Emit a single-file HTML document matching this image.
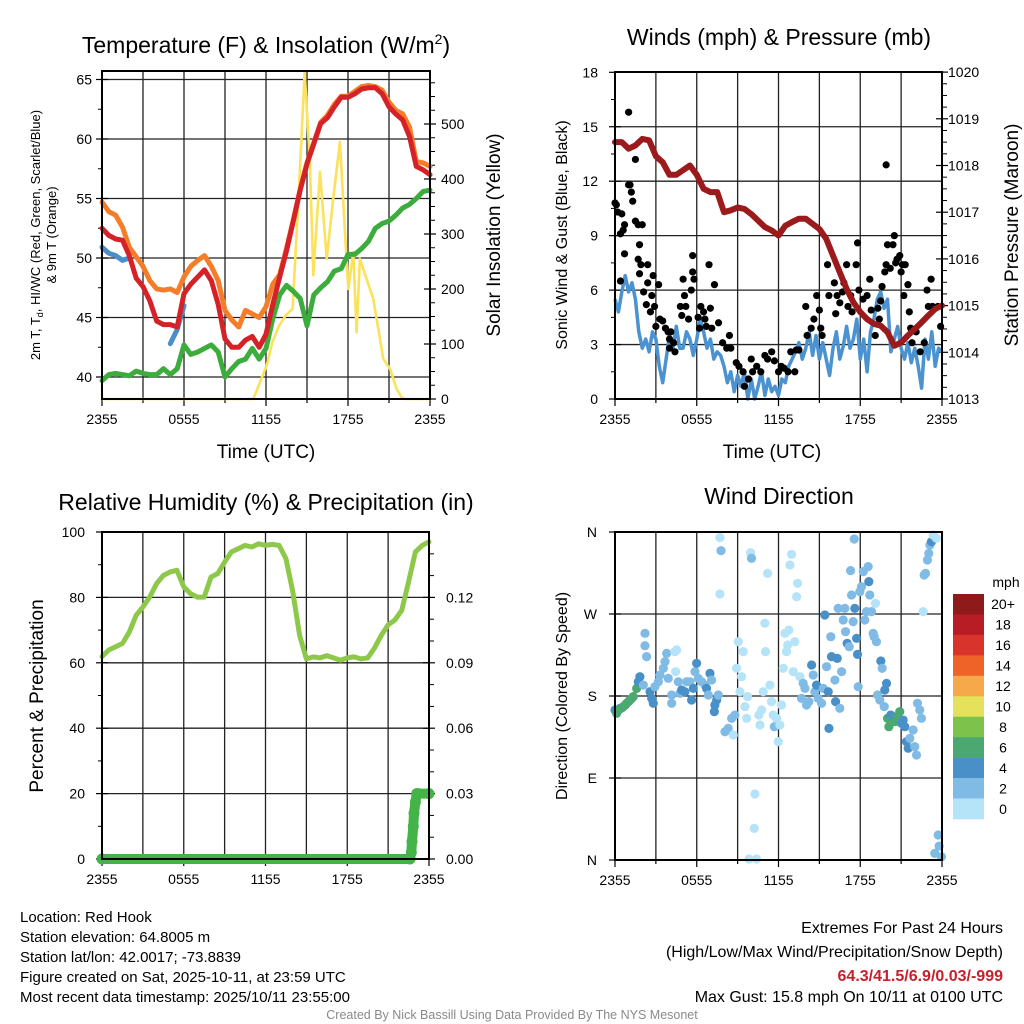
<!DOCTYPE html>
<html><head><meta charset="utf-8">
<style>
html,body{margin:0;padding:0;background:#fff;}
svg{display:block;font-family:"Liberation Sans",Arial,sans-serif;}
</style></head>
<body>
<svg id="chart" width="1024" height="1024" viewBox="0 0 1024 1024" xmlns="http://www.w3.org/2000/svg">
<rect width="1024" height="1024" fill="#fff"/>
<g id="g1"></g>
<g id="g2"></g>
<g id="g3"></g>
<g id="g4"></g>

<text x="266" y="53" font-size="23" text-anchor="middle">Temperature (F) &amp; Insolation (W/m<tspan dy="-9" font-size="14">2</tspan><tspan dy="9">)</tspan></text>
<text x="779" y="45" font-size="23" text-anchor="middle">Winds (mph) &amp; Pressure (mb)</text>
<text x="266" y="510" font-size="23" text-anchor="middle">Relative Humidity (%) &amp; Precipitation (in)</text>
<text x="779" y="504" font-size="23" text-anchor="middle">Wind Direction</text>

<text x="266" y="458" font-size="19" text-anchor="middle">Time (UTC)</text>
<text x="772" y="458" font-size="19" text-anchor="middle">Time (UTC)</text>

<g transform="translate(40,235) rotate(-90)" font-size="13" text-anchor="middle">
<text x="0" y="0">2m T, T<tspan font-size="9" dy="3">d</tspan><tspan dy="-3">, HI/WC (Red, Green, Scarlet/Blue)</tspan></text>
<text x="0" y="16">&amp; 9m T (Orange)</text>
</g>
<text transform="translate(500,235) rotate(-90)" font-size="19" text-anchor="middle">Solar Insolation (Yellow)</text>
<text transform="translate(567,235) rotate(-90)" font-size="16" text-anchor="middle">Sonic Wind &amp; Gust (Blue, Black)</text>
<text transform="translate(1018,235) rotate(-90)" font-size="19" text-anchor="middle">Station Pressure (Maroon)</text>
<text transform="translate(43,696) rotate(-90)" font-size="19" text-anchor="middle">Percent &amp; Precipitation</text>
<text transform="translate(567,696) rotate(-90)" font-size="16" text-anchor="middle">Direction (Colored By Speed)</text>

<g font-size="15">
<text x="20" y="922">Location: Red Hook</text>
<text x="20" y="942">Station elevation: 64.8005 m</text>
<text x="20" y="962">Station lat/lon: 42.0017; -73.8839</text>
<text x="20" y="982">Figure created on Sat, 2025-10-11, at 23:59 UTC</text>
<text x="20" y="1002">Most recent data timestamp: 2025/10/11 23:55:00</text>
</g>
<g font-size="16" text-anchor="end">
<text x="1003" y="933">Extremes For Past 24 Hours</text>
<text x="1003" y="957">(High/Low/Max Wind/Precipitation/Snow Depth)</text>
<text x="1003" y="981" fill="#c8202a" font-weight="bold">64.3/41.5/6.9/0.03/-999</text>
<text x="1003" y="1002">Max Gust: 15.8 mph On 10/11 at 0100 UTC</text>
</g>
<text x="512" y="1019" font-size="12.5" fill="#8a8a8a" text-anchor="middle">Created By Nick Bassill Using Data Provided By The NYS Mesonet</text>
</svg>
<script>
// ---------- DATA ----------
const timeTicks = ["2355","0555","1155","1755","2355"];
// half-hourly temperatures (hours 0..24 step 0.5)
const tempRed = [52.5,51.9,51.6,51.5,50.2,48.3,47.6,46.4,44.7,44.4,44.4,44.2,47,47.8,48.4,49,48.1,46.1,43.2,42.5,42.5,43.1,43.4,42.5,43.6,46.1,48.4,50.6,53.1,55.7,57.9,59.6,61.3,61.8,62.7,63.5,63.5,63.8,64.2,64.3,64.3,63.8,62.7,62.1,61.6,60.2,57.7,57.4,57];
const temp9m = [54.7,53.9,53.6,52.6,50.9,50.1,49.3,48.1,47.4,47.3,47.4,47.1,48.4,49.3,49.8,50.2,49.3,48.1,45.6,44.8,44.2,45.6,45.3,45,45.9,47.8,48.6,50.8,53.2,55.8,58,59.7,61.4,62,62.9,63.6,63.6,64,64.4,64.5,64.4,64.1,63.1,62.4,62.1,61,58.1,58,57.7];
const tempWC = [50.9,50.4,50.2,49.8,50.0,null,null,null,null,null,42.8,44.0,46.0,null,null,null,null,null,null,null,null,null,null,null,null,null,null,null,null,null,null,null,null,null,null,null,null,null,null,null,null,null,null,null,null,null,null,null,null];
const dewpoint = [39.7,40.2,40.3,40.2,40.1,40.5,40.3,40.2,40.2,40.7,40.2,40.7,42.7,41.9,42.1,42.4,42.7,42.1,40,40.7,41.3,41.5,42.4,41.5,42.4,44.9,46.9,47.7,47.2,46.6,44.3,46.9,47.5,48,48.9,49.1,50.3,50.3,50.8,51.4,52.5,52.9,53.1,53.6,54.2,54.5,55,55.6,55.7];
const solarHour = [0,11.07,11.46,12.05,12.46,12.95,13.44,13.95,14.44,14.83,15.22,15.46,15.95,16.44,16.92,17.41,17.78,18.02,18.39,18.63,18.87,19.36,19.85,20.09,20.58,21.07,21.56,21.92,22.2,24];
const solarVal = [0,0,24,61,103,133,152,164,394,595,425,225,413,255,364,467,303,200,267,121,255,218,182,146,73,55,18,3,0,0];

// quarter-hourly sonic wind (mph)
const windSpeed = [5.5,4.8,5.9,6.8,5.9,6.4,5.5,3.7,2.8,3.3,2.6,3.7,3.3,1.8,0.9,2.2,3.5,2.8,4.0,2.8,2.8,3.7,3.3,2.4,3.3,4.4,3.7,2.8,3.3,2.2,2.6,2.4,1.8,0.9,1.5,0.4,1.3,0.7,1.5,0,1.1,0,0.7,1.5,0.2,1.1,0.4,0.7,0.2,1.1,0.9,1.8,2.2,2.6,3.1,2.2,2.8,3.7,2.4,3.5,2.2,3.1,2.2,1.3,2.8,3.7,2.2,2.9,4.0,2.8,3.3,4.4,2.2,3.3,1.5,3.7,4.4,5.5,5.9,5.0,5.5,2.6,3.3,4.0,2.8,2.2,3.1,2.0,2.8,1.8,0.6,3.3,2.2,3.7,1.8,2.8,2.6];
const gustHour = [0.0,0.1,0.2,0.4,0.5,0.6,0.7,1.0,1.0,1.1,1.2,1.3,1.5,1.5,1.7,1.8,2.0,0.7,0.4,1.7,1.9,1.8,2.4,2.4,2.1,2.3,2.6,2.7,2.8,2.9,3.0,3.2,3.3,3.5,3.7,3.9,4.0,4.1,4.0,4.3,4.4,5.0,4.8,4.9,5.1,5.2,5.6,5.7,5.7,5.8,5.4,6.1,6.2,6.3,6.5,6.6,6.7,6.9,7.0,7.1,7.3,7.6,7.9,8.2,8.4,8.5,8.9,9.1,9.4,9.5,9.8,10.0,10.1,10.4,10.7,11.0,11.2,11.5,11.7,12.0,12.2,12.4,12.7,12.9,13.2,13.3,13.5,14.0,14.1,14.4,14.8,14.6,15.0,15.1,15.2,15.6,15.7,16.1,16.2,16.3,16.5,16.7,16.8,17.0,17.1,17.3,17.4,17.7,17.8,17.9,18.2,18.5,18.7,18.8,19.1,19.3,19.4,19.5,19.6,19.8,19.9,19.9,20.0,20.2,20.4,20.5,20.6,20.7,20.9,21.0,21.1,21.2,21.3,21.5,21.6,21.7,21.8,22.1,22.4,22.7,22.9,23.0,23.2,23.3,23.7,23.9];
const gustMph = [10.8,10.7,10.3,9.1,10.2,9.3,9.6,15.8,11.8,11.8,11.4,10.9,13.2,9.8,9.6,8.5,9.6,8.0,6.5,7.7,7.4,6.9,7.4,6.4,5.9,5.2,4.8,5.7,6.8,5.1,4.0,6.3,4.4,4.3,3.9,3.7,3.3,3.7,2.8,3.1,2.6,6.6,5.1,4.6,5.7,5.1,6.0,7.0,7.9,6.6,4.4,4.5,3.9,5.1,4.8,4.4,4.0,7.4,5.0,3.9,6.3,4.2,3.1,2.8,3.5,2.8,2.0,1.8,1.5,0.7,1.1,2.2,1.5,1.8,1.5,2.4,2.2,2.6,2.1,1.5,1.8,1.7,1.5,2.6,1.5,2.7,2.7,5.1,3.5,3.9,5.7,4.4,4.9,3.9,3.5,7.4,5.7,6.4,4.7,5.7,5.3,5.9,6.4,7.4,5.1,5.7,4.8,7.4,8.6,6.0,5.5,5.7,6.6,4.9,3.5,5.0,4.4,5.4,6.2,7.0,7.4,12.9,8.5,7.2,8.5,9.0,7.5,7.7,7.9,7.0,7.4,5.7,7.4,6.3,4.8,3.9,3.1,3.7,2.6,3.1,6.0,5.1,6.6,5.1,5.1,4.0];
// half-hourly station pressure (mb)
const pressure = [1018.5,1018.5,1018.36,1018.43,1018.57,1018.54,1018.2,1018.07,1017.8,1017.8,1017.9,1018,1017.8,1017.5,1017.43,1017.43,1017,1017.04,1017.1,1017.07,1016.96,1016.82,1016.68,1016.61,1016.5,1016.71,1016.79,1016.86,1016.86,1016.75,1016.64,1016.43,1016.07,1015.71,1015.36,1015.07,1014.86,1014.71,1014.61,1014.57,1014.43,1014.14,1014.21,1014.36,1014.5,1014.64,1014.79,1014.93,1015];

// half-hourly relative humidity (%)
const humidity = [61.9,63.9,64.9,65.9,69.4,74.5,77.1,80.1,84.2,86.7,87.8,88.3,83.2,81.1,80.1,80.1,86.2,87.3,90.8,93.9,94.9,95.9,95.4,96.4,95.9,96.2,95.9,91.9,81.7,68.4,61.2,61.8,61.5,62.2,61.5,60.8,61.5,61.8,61.2,61.5,64.5,68.4,71.6,73.1,76.1,84.8,93.9,95.9,97];
const precipHour = [0,22.6,22.7,22.75,22.85,22.9,23.0,23.1,23.2,24];
const precipVal = [0,0,0.003,0.008,0.015,0.021,0.026,0.03,0.03,0.03];

const dirHour = [0,0.12,0.37,0.61,0.86,1.1,1.34,1.59,1.71,1.83,2.08,2.2,2.2,2.32,2.57,2.69,2.81,2.93,3.18,3.3,3.55,3.67,3.79,3.91,4.16,4.16,4.4,4.45,4.52,4.65,4.77,4.89,5.13,5.26,5.5,5.62,5.75,5.87,5.99,6.11,6.36,6.6,6.72,6.85,6.97,7.09,7.33,7.46,7.29,7.58,7.7,7.78,7.7,8.07,8.31,8.56,8.68,8.8,8.92,9.05,9.17,9.29,9.41,9.54,9.66,9.73,9.95,10.02,10.27,10.22,9.83,10.39,10.56,10.64,10.76,10.88,11.0,11.05,11.2,11.37,11.49,11.61,11.69,11.86,11.98,12.1,12.22,12.35,12.47,12.59,12.67,12.76,12.84,12.96,13.08,13.2,13.33,13.4,13.57,13.69,13.81,13.94,14.06,14.23,14.43,14.55,14.67,14.79,14.91,15.16,15.28,15.4,15.53,15.65,15.7,15.84,15.89,16.14,16.19,16.31,16.38,16.5,16.63,16.75,16.87,16.92,17.04,17.19,17.29,17.36,17.48,17.56,17.6,17.73,17.8,17.85,17.97,18.09,18.22,18.34,18.46,18.58,18.63,18.7,18.83,18.95,19.02,19.12,19.19,19.27,19.44,19.51,19.61,19.76,19.8,19.93,20.0,20.1,20.24,20.42,20.54,20.73,20.9,21.03,21.15,21.27,21.39,21.52,21.64,21.88,22.0,22.13,22.2,22.37,22.49,22.62,22.69,22.79,22.93,23.03,23.11,23.23,23.35,23.59,23.47,23.72,23.79,23.96,0.3,0.5,0.75,1.0,1.2];
const dirDeg = [164.6,161,166.5,168.3,172,175.6,179.3,188.4,195.7,201.2,192,248.8,235.2,223.2,184.7,177.4,172,190.2,195.7,203,210.4,217.7,226.8,199.4,181.1,172,228.7,206.7,230.5,195.7,182.9,186.6,184.7,195.7,195.7,175.6,188.4,206.7,215.9,199.4,195.7,192,188.4,181.1,204.9,197.5,170.1,175.6,162.8,181.1,353.8,339.5,292,140.8,144.5,155.5,137.2,159.1,210.4,239.6,184.7,201.2,228.7,168.3,155.5,179.3,337.3,331.1,72.4,34.7,1.1,1.1,159.1,148.2,164.6,184.7,259.8,228.7,314.6,192,173.8,159.1,146.3,155.5,129.9,148.2,170.1,210.4,248.8,228.7,236,252.4,323.8,335.5,206.7,239.6,289,303.7,201.2,177.4,193.9,188.4,170.1,173.8,214,203,184.7,192,177.4,172,188.4,268.9,212.2,184.7,144.5,245.1,223.2,197.5,173.8,221.3,276.2,166.5,206.7,263.4,276.2,250.6,237.8,234.1,317.6,290.9,261.6,352.3,276.2,243.3,225.7,190.2,294.5,300,316.5,263.4,272.6,322,305.5,290.9,272.6,248.8,245.1,281.7,239.6,181.1,175.6,218.4,210.4,168.3,186.6,193.9,155.5,146.3,159.1,157.3,151.8,157.3,162.8,150,153.6,146.3,129.9,122.6,133.5,142.7,124.4,115.2,172,164.6,155.5,272.6,312.8,314.6,329.3,336.6,345.7,349.4,356.7,353.1,7.3,27.4,15.3,3.6,165,167,170,174,177];
const dirSpeed = [5,7,5,7,7,7,7,7,5,5,3,3,3,3,5,5,5,3,3,3,3,3,3,3,3,3,1,1,1,3,3,5,5,3,3,5,5,3,5,3,3,3,5,3,5,3,5,5,5,3,1,3,1,3,3,3,1,3,1,1,1,1,1,1,1,1,1,3,1,1,1,1,1,1,1,1,1,1,1,1,1,1,3,1,1,1,1,1,1,1,1,1,1,1,1,1,1,1,1,3,3,3,3,3,5,3,3,5,3,3,3,5,3,5,5,3,5,3,5,5,3,3,3,3,3,3,5,3,3,3,3,3,5,5,5,3,3,3,3,3,3,3,5,3,3,3,3,1,3,3,3,5,3,3,5,5,7,7,5,5,7,7,7,5,5,5,5,5,3,3,3,3,3,3,3,1,3,3,3,3,3,5,1,1,3,3,3,3,7,7,7,7,7];
const speedBins = ["20+","18","16","14","12","10","8","6","4","2","0"];
const binColors = ["#8e1a1a","#b81c24","#d9342b","#ef6329","#f6a94a","#e6e15a","#7cc24b","#4aa870","#4a90c8","#80bbe6","#b5e3f8"];

// ---------- HELPERS ----------
const NS="http://www.w3.org/2000/svg";
function mk(parent,tag,attrs){const e=document.createElementNS(NS,tag);for(const k in attrs)e.setAttribute(k,attrs[k]);parent.appendChild(e);return e;}
function path(points){let d="",pen=false;for(const p of points){if(p==null){pen=false;continue;}d+=(pen?"L":"M")+p[0].toFixed(1)+","+p[1].toFixed(1);pen=true;}return d;}

function frame(g,x0,x1,y0,y1,hTicks,yFn,labels,labelX,minorVals,rightTicks,rightMinor,rightLabelX,bottomLabels){
  for(let h=3;h<24;h+=3){const x=x0+(x1-x0)*h/24;
    const l=mk(g,"line",{x1:x,x2:x,y1:y0,y2:y1,stroke:"#222","stroke-width":1.3});
    }
  hTicks.forEach((v,i)=>{const y=yFn(v);
    const l=mk(g,"line",{x1:x0,x2:x1,y1:y,y2:y,stroke:"#222","stroke-width":1.3});
    
    mk(g,"line",{x1:x0-6,x2:x0+6,y1:y,y2:y,stroke:"#000","stroke-width":1.2});
    const t=mk(g,"text",{x:labelX,y:y+5,"font-size":14,"text-anchor":"end"});t.textContent=labels[i];
    });
  minorVals.forEach(v=>{const y=yFn(v);mk(g,"line",{x1:x0-4,x2:x0,y1:y,y2:y,stroke:"#000","stroke-width":1});});
  rightTicks.forEach(o=>{mk(g,"line",{x1:x1-6,x2:x1+6,y1:o.y,y2:o.y,stroke:"#000","stroke-width":1.2});
    const t=mk(g,"text",{x:rightLabelX,y:o.y+5,"font-size":14});t.textContent=o.label;
    });
  rightMinor.forEach(y=>{mk(g,"line",{x1:x1,x2:x1+5,y1:y,y2:y,stroke:"#000","stroke-width":1});});
  for(let i=0;i<=8;i++){const x=x0+(x1-x0)*i/8;mk(g,"line",{x1:x,x2:x,y1:y1,y2:y1+(i%2?4:7),stroke:"#000","stroke-width":1.2});}
  bottomLabels.forEach((s,i)=>{const t=mk(g,"text",{x:x0+(x1-x0)*i/4,y:y1+25,"font-size":14,"text-anchor":"middle"});t.textContent=s;
    });
}
function border(g,x0,x1,y0,y1){const r=mk(g,"rect",{x:x0,y:y0,width:x1-x0,height:y1-y0,fill:"none",stroke:"#000","stroke-width":2});
  }

// ---------- PANEL 1 ----------
(function(){
const g=document.getElementById("g1");
const X0=102,X1=430,Y0=71,Y1=399;
const xs=h=>X0+(X1-X0)*h/24;
const yT=t=>377-(t-40)*11.9;
const yS=w=>399-w*0.55;
const rt=[0,100,200,300,400,500].map(v=>({y:yS(v),label:String(v)}));
const rm=[];for(let v=25;v<600;v+=25){if(v%100)rm.push(yS(v));}
frame(g,X0,X1,Y0,Y1,[40,45,50,55,60,65],yT,["40","45","50","55","60","65"],92,[42.5,47.5,52.5,57.5,62.5],rt,rm,441,timeTicks);
const half=(arr)=>arr.map((v,i)=>v==null?null:[xs(i*0.5),yT(v)]);
const s=mk(g,"path",{d:path(solarHour.map((h,i)=>[xs(h),yS(solarVal[i])])),fill:"none",stroke:"#fbe25a","stroke-width":2.6,"stroke-linejoin":"round"});

const series=[[dewpoint,"#3cac3c","dewpoint-line"],[tempWC,"#4a8fcb","wind-chill-line"],[temp9m,"#f47d2a","9m-temperature-line"],[tempRed,"#d52228","2m-temperature-line"]];
series.forEach(([arr,c,n])=>{const p=mk(g,"path",{d:path(half(arr)),fill:"none",stroke:c,"stroke-width":5,"stroke-linejoin":"round","stroke-linecap":"round"});
  });
border(g,X0,X1,Y0,Y1);
})();

// ---------- PANEL 2 ----------
(function(){
const g=document.getElementById("g2");
const X0=615,X1=942,Y0=72,Y1=399;
const xs=h=>X0+(X1-X0)*h/24;
const yW=m=>399-m*18.15;
const yP=p=>399-(p-1013)*46.7;
const rt=[1013,1014,1015,1016,1017,1018,1019,1020].map(v=>({y:yP(v),label:String(v)}));
const rm=[];for(let v=1013.25;v<1020;v+=0.25){if(Math.abs(v-Math.round(v))>0.01)rm.push(yP(v));}
frame(g,X0,X1,Y0,Y1,[0,3,6,9,12,15,18],yW,["0","3","6","9","12","15","18"],598,[1.5,4.5,7.5,10.5,13.5,16.5],rt,rm,948,timeTicks);
const w=mk(g,"path",{d:path(windSpeed.map((v,i)=>[xs(i*0.25),yW(v)])),fill:"none",stroke:"#4a93d0","stroke-width":3.5,"stroke-linejoin":"round"});

gustHour.forEach((h,i)=>{const c=mk(g,"circle",{cx:xs(h),cy:yW(gustMph[i]),r:3.6,fill:"#000"});
  });
const p=mk(g,"path",{d:path(pressure.map((v,i)=>[xs(i*0.5),yP(v)])),fill:"none",stroke:"#9b1a1c","stroke-width":6,"stroke-linejoin":"round","stroke-linecap":"round"});

border(g,X0,X1,Y0,Y1);
})();

// ---------- PANEL 3 ----------
(function(){
const g=document.getElementById("g3");
const X0=102,X1=429,Y0=532,Y1=859;
const xs=h=>X0+(X1-X0)*h/24;
const yR=r=>859-r*3.27;
const yPr=v=>859-v*2180;
const rt=[0,0.03,0.06,0.09,0.12].map(v=>({y:yPr(v),label:v.toFixed(2)}));
const rm=[];for(let v=0.01;v<0.15;v+=0.01){if(Math.round(v*100)%3)rm.push(yPr(v));}
frame(g,X0,X1,Y0,Y1,[0,20,40,60,80,100],yR,["0","20","40","60","80","100"],85,[10,30,50,70,90],rt,rm,446,timeTicks);
const h=mk(g,"path",{d:path(humidity.map((v,i)=>[xs(i*0.5),yR(v)])),fill:"none",stroke:"#8dc84a","stroke-width":5,"stroke-linejoin":"round","stroke-linecap":"round"});

const pl=mk(g,"path",{d:path(precipHour.map((t,i)=>[xs(t),yPr(precipVal[i])])),fill:"none",stroke:"#44b448","stroke-width":10,"stroke-linecap":"round","stroke-linejoin":"round"});

precipHour.forEach((t,i)=>{const c=mk(g,"circle",{cx:xs(t),cy:yPr(precipVal[i]),r:5.5,fill:"#44b448"});
  });
border(g,X0,X1,Y0,Y1);
})();

// ---------- PANEL 4 ----------
(function(){
const g=document.getElementById("g4");
const X0=615,X1=942,Y0=532,Y1=860;
const xs=h=>X0+(X1-X0)*h/24;
const yD=d=>860-d*0.9111;
frame(g,X0,X1,Y0,Y1,[0,90,180,270,360],yD,["N","E","S","W","N"],597,[],[],[],0,timeTicks);
const col=s=>binColors[10-Math.min(10,Math.floor(s/2))];
dirHour.forEach((h,i)=>{const c=mk(g,"circle",{cx:xs(h),cy:yD(dirDeg[i]),r:4.6,fill:col(dirSpeed[i])});
  });
border(g,X0,X1,Y0,Y1);
const cb=mk(g,"g",{});

const bh=225/11;
speedBins.forEach((lab,i)=>{const y=594+i*bh;
  const r=mk(cb,"rect",{x:953,y:y,width:31,height:bh+0.3,fill:binColors[i]});
  
  const t=mk(cb,"text",{x:1003,y:y+bh/2+5,"font-size":14,"text-anchor":"middle"});t.textContent=lab;
  });
const m=mk(cb,"text",{x:1006,y:587,"font-size":14,"text-anchor":"middle"});m.textContent="mph";

})();
</script>
</body></html>
